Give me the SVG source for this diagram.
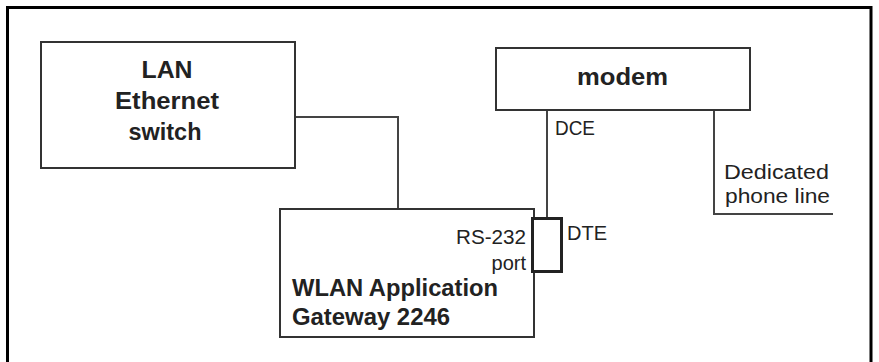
<svg xmlns="http://www.w3.org/2000/svg" width="879" height="362" viewBox="0 0 879 362">
<style>
.box{fill:#fff;stroke:#333;stroke-width:2}
.ln{fill:none;stroke:#444;stroke-width:2}
.b{font-family:"Liberation Sans",Arial,sans-serif;font-weight:bold;font-size:24px;fill:#222}
.r{font-family:"Liberation Sans",Arial,sans-serif;font-size:20px;fill:#222}
</style>
<rect width="879" height="362" fill="#fff"/>
<path d="M7.5,362 V7.5 H871 V362" fill="none" stroke="#000" stroke-width="3"/>
<g id="connectors">
<polyline class="ln" points="295,117 398,117 398,209"/>
<polyline class="ln" points="547,110 547,218"/>
<polyline class="ln" points="714,110 714,214 833,214"/>
</g>
<g id="lan">
<rect class="box" x="41" y="42" width="254" height="126"/>
<text class="b" x="167" y="78" text-anchor="middle" textLength="51" lengthAdjust="spacingAndGlyphs">LAN</text>
<text class="b" x="167" y="109" text-anchor="middle" textLength="104" lengthAdjust="spacingAndGlyphs">Ethernet</text>
<text class="b" x="165" y="140" text-anchor="middle" textLength="73" lengthAdjust="spacingAndGlyphs">switch</text>
</g>
<g id="modem">
<rect class="box" x="496" y="48" width="254" height="62"/>
<text class="b" x="622.5" y="85" text-anchor="middle" textLength="91" lengthAdjust="spacingAndGlyphs">modem</text>
</g>
<g id="gateway">
<rect class="box" x="280" y="209" width="254" height="128"/>
<text class="r" x="526" y="244" text-anchor="end" textLength="70" lengthAdjust="spacingAndGlyphs">RS-232</text>
<text class="r" x="526" y="270" text-anchor="end">port</text>
<text class="b" x="292" y="296" textLength="206" lengthAdjust="spacingAndGlyphs">WLAN Application</text>
<text class="b" x="292" y="325" textLength="158" lengthAdjust="spacingAndGlyphs">Gateway 2246</text>
</g>
<g id="port">
<rect x="532.5" y="218.5" width="29" height="53" fill="#fff" stroke="#222" stroke-width="3"/>
</g>
<g id="labels">
<text class="r" x="555" y="135" textLength="40" lengthAdjust="spacingAndGlyphs">DCE</text>
<text class="r" x="567" y="240">DTE</text>
<text class="r" x="724" y="179" textLength="105" lengthAdjust="spacingAndGlyphs">Dedicated</text>
<text class="r" x="725" y="203" textLength="105" lengthAdjust="spacingAndGlyphs">phone line</text>
</g>
</svg>
